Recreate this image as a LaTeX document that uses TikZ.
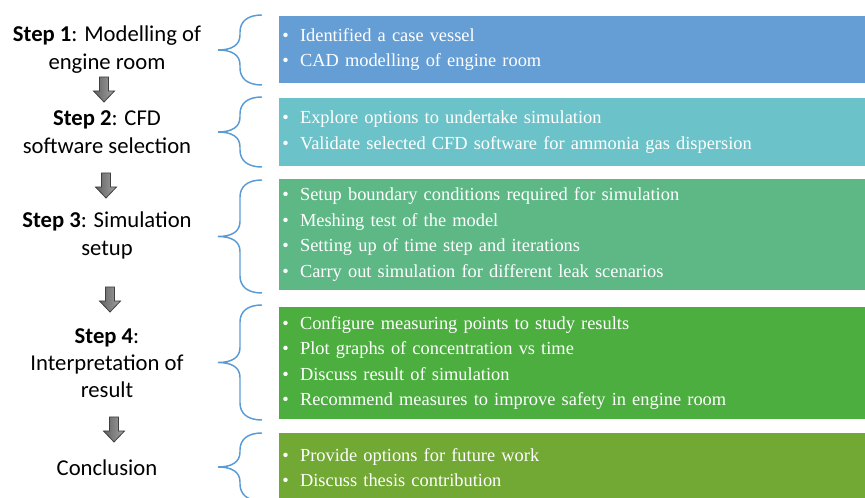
\documentclass[tikz,border=0pt]{standalone}
\usepackage{fontspec}
\setmainfont{Liberation Serif}
\newfontfamily\stepfont{Carlito}
\usetikzlibrary{positioning}

\definecolor{bracecol}{HTML}{5B9BD5}
\definecolor{task1}{HTML}{659ED5}
\definecolor{task2}{HTML}{6BC3C9}
\definecolor{task3}{HTML}{5EB886}
\definecolor{task4}{HTML}{4BAE3F}
\definecolor{task5}{HTML}{72A834}

\tikzset{
  stepbox/.style={align=center,inner sep=0pt,
    font=\stepfont\fontsize{17}{20.5}\selectfont},
  taskbox/.style={fill=#1,anchor=west,text=white,align=left,
    text width=439.5pt,inner xsep=2.25pt,inner ysep=0pt,
    font=\fontsize{13.8}{19.2}\selectfont},
  bracket/.style={draw=bracecol,line width=1.1pt},
  arrowfill/.style={draw=black!75,line width=0.6pt,line join=miter,
    left color=black!62,right color=black!36},
  % block arrow pointing down, origin at the top of the shaft
  blockarrow/.pic={
    \path[arrowfill] (-4.5,0) -- (4.5,0) -- (4.5,14) -- (10.5,14)
      -- (0,25) -- (-10.5,14) -- (-4.5,14) -- cycle;}
}

% bullet of a task line
\newcommand{\itm}{\textbullet\hspace{8.5pt}}
% curly bracket between a step and its tasks (top and bottom in px)
\newcommand{\taskbrace}[2]{%
  \pgfmathsetmacro{\bmid}{(#1+#2)/2}
  \draw[bracket] (262,#1) .. controls (247,#1) and (240,#1+7) .. (240,#1+17)
    -- (240,\bmid-15) .. controls (240,\bmid-5) and (232,\bmid) .. (218,\bmid)
    .. controls (232,\bmid) and (240,\bmid+5) .. (240,\bmid+15)
    -- (240,#2-17) .. controls (240,#2-7) and (247,#2) .. (262,#2);}

\begin{document}
\begin{tikzpicture}[x=0.75pt,y=-0.75pt]
% canvas 865 x 498 px
\clip (0,0) rectangle (865,498);
\coordinate (axis) at (107,0);
% task boxes
\node[taskbox=task1,minimum height=50.25pt] (b1) at (279,49.5)
  {\itm Identified a case vessel\\
   \itm CAD modelling of engine room};
\node[taskbox=task2,minimum height=51pt] (b2) at (279,132)
  {\itm Explore options to undertake simulation\\
   \itm Validate selected CFD software for ammonia gas dispersion};
\node[taskbox=task3,minimum height=83.25pt] (b3) at (279,234.5)
  {\itm Setup boundary conditions required for simulation\\
   \itm Meshing test of the model\\
   \itm Setting up of time step and iterations\\
   \itm Carry out simulation for different leak scenarios};
\node[taskbox=task4,minimum height=84pt] (b4) at (279,363)
  {\itm Configure measuring points to study results\\
   \itm Plot graphs of concentration vs time\\
   \itm Discuss result of simulation\\
   \itm Recommend measures to improve safety in engine room};
\node[taskbox=task5,minimum height=51.75pt] (b5) at (279,467.5)
  {\itm Provide options for future work\\
   \itm Discuss thesis contribution};
% steps
\node[stepbox] (s1) at (axis |- b1.west) {\textbf{Step 1}: Modelling of\\engine room};
\node[stepbox] (s2) at (axis |- b2.west) {\textbf{Step 2}: CFD\\software selection};
\node[stepbox] (s3) at ([yshift=-0.75pt]axis |- b3.west) {\textbf{Step 3}: Simulation\\setup};
\node[stepbox] (s4) at (axis |- b4.west) {\textbf{Step 4}:\\Interpretation of\\result};
\node[stepbox] (s5) at (axis |- b5.west) {Conclusion};
% arrows between steps
\pic at (104,77) {blockarrow};
\pic at (106,173) {blockarrow};
\pic at (110,287) {blockarrow};
\pic at (114,417) {blockarrow};
% brackets
\taskbrace{15}{85}
\taskbrace{97}{167}
\taskbrace{180}{293}
\taskbrace{305}{420}
\taskbrace{433}{501}
\end{tikzpicture}
\end{document}
